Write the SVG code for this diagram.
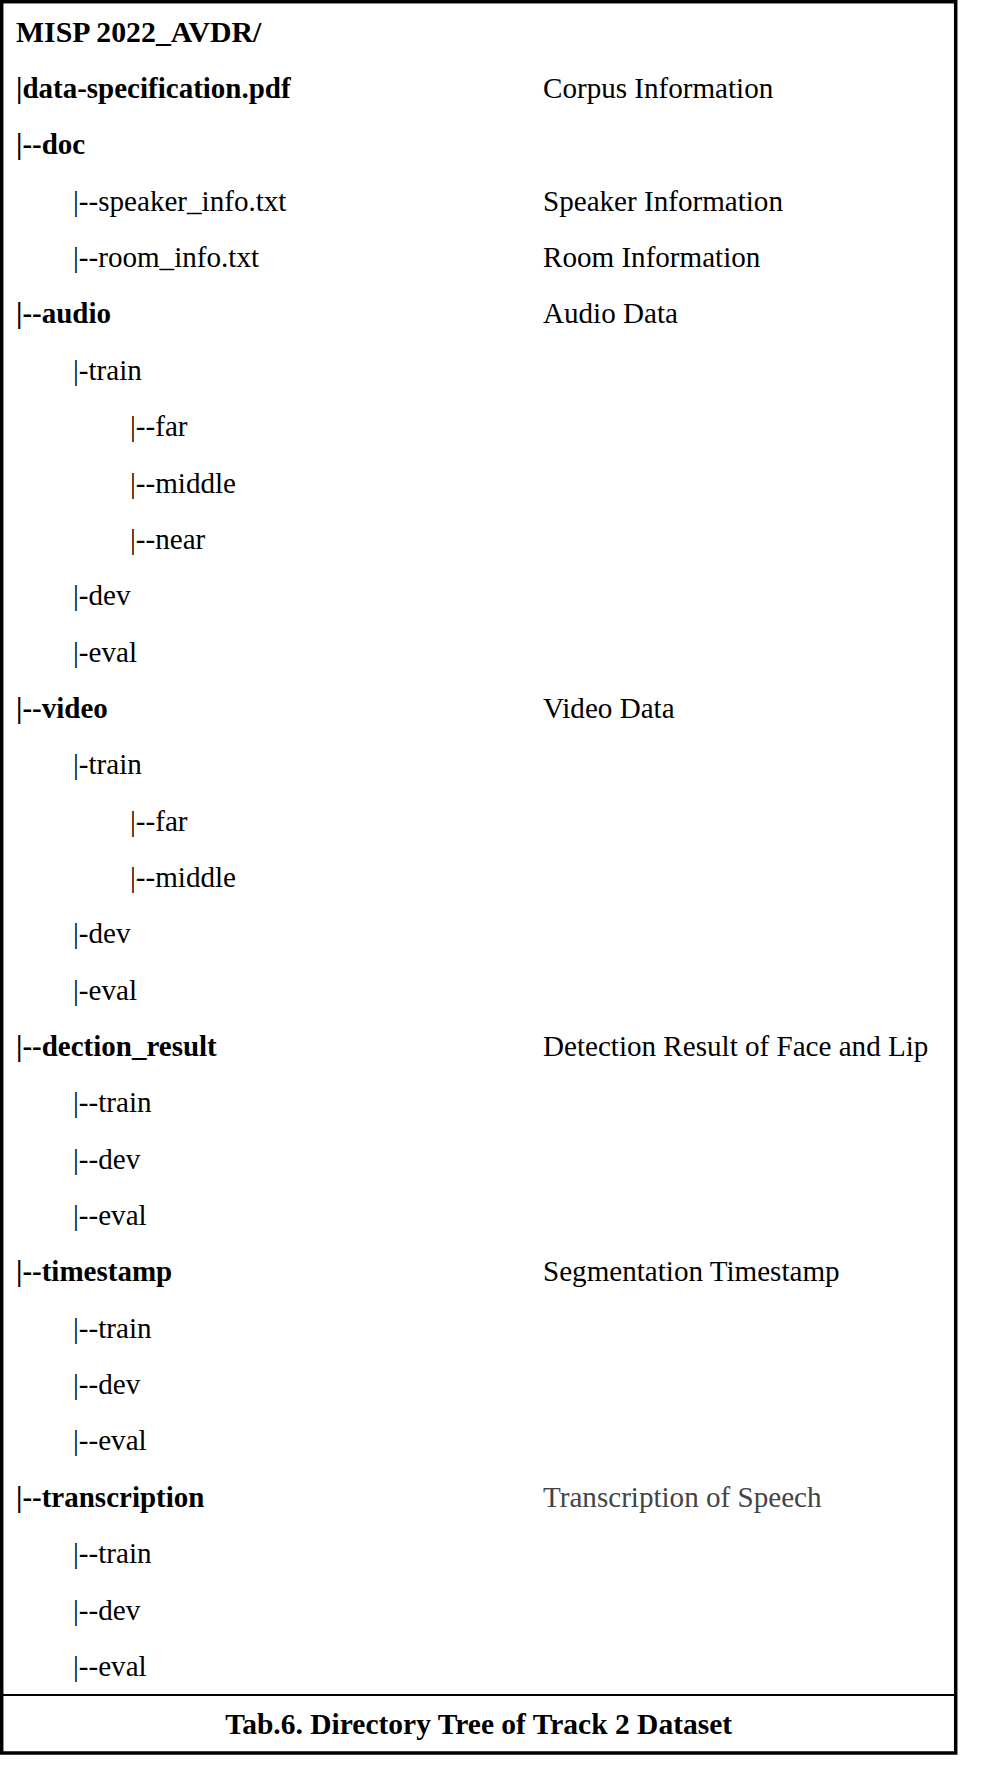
<svg xmlns="http://www.w3.org/2000/svg" width="999" height="1791" viewBox="0 0 999 1791">
<style>
text{font-family:"Liberation Serif","Times New Roman",serif;font-size:29.1px;fill:#000}
.b{font-weight:bold;font-size:29px}
.t{font-size:29.8px}
.g{fill:#444}
.cap{font-weight:bold;font-size:29.5px;text-anchor:middle}
</style>
<rect width="999" height="1791" fill="#fff"/>
<g id="frame" fill="none" stroke="#000">
<rect x="1.7" y="1.7" width="954" height="1751.3" stroke-width="3.5"/>
<line x1="1.7" y1="1695" x2="955.7" y2="1695" stroke-width="1.8"/>
</g>
<g id="tree">
<g id="r0"><text class="b t" x="16" y="41.7">MISP 2022_AVDR/</text></g>
<g id="r1"><text class="b" x="16" y="98">|data-specification.pdf</text><text x="543" y="98">Corpus Information</text></g>
<g id="r2"><text class="b" x="16" y="154.4">|--doc</text></g>
<g id="r3"><text x="73" y="210.7">|--speaker_info.txt</text><text x="543" y="210.7">Speaker Information</text></g>
<g id="r4"><text x="73" y="267.1">|--room_info.txt</text><text x="543" y="267.1">Room Information</text></g>
<g id="r5"><text class="b" x="16" y="323.4">|--audio</text><text x="543" y="323.4">Audio Data</text></g>
<g id="r6"><text x="73" y="379.8">|-train</text></g>
<g id="r7"><text x="130" y="436.1">|--far</text></g>
<g id="r8"><text x="130" y="492.5">|--middle</text></g>
<g id="r9"><text x="130" y="548.8">|--near</text></g>
<g id="r10"><text x="73" y="605.2">|-dev</text></g>
<g id="r11"><text x="73" y="661.5">|-eval</text></g>
<g id="r12"><text class="b" x="16" y="717.9">|--video</text><text x="543" y="717.9">Video Data</text></g>
<g id="r13"><text x="73" y="774.2">|-train</text></g>
<g id="r14"><text x="130" y="830.6">|--far</text></g>
<g id="r15"><text x="130" y="886.9">|--middle</text></g>
<g id="r16"><text x="73" y="943.3">|-dev</text></g>
<g id="r17"><text x="73" y="999.6">|-eval</text></g>
<g id="r18"><text class="b" x="16" y="1056">|--dection_result</text><text x="543" y="1056">Detection Result of Face and Lip</text></g>
<g id="r19"><text x="73" y="1112.3">|--train</text></g>
<g id="r20"><text x="73" y="1168.7">|--dev</text></g>
<g id="r21"><text x="73" y="1225">|--eval</text></g>
<g id="r22"><text class="b" x="16" y="1281.4">|--timestamp</text><text x="543" y="1281.4">Segmentation Timestamp</text></g>
<g id="r23"><text x="73" y="1337.7">|--train</text></g>
<g id="r24"><text x="73" y="1394.1">|--dev</text></g>
<g id="r25"><text x="73" y="1450.4">|--eval</text></g>
<g id="r26"><text class="b" x="16" y="1506.8">|--transcription</text><text class="g" x="543" y="1506.8">Transcription of Speech</text></g>
<g id="r27"><text x="73" y="1563.1">|--train</text></g>
<g id="r28"><text x="73" y="1619.5">|--dev</text></g>
<g id="r29"><text x="73" y="1675.8">|--eval</text></g>
</g>
<g id="caption"><text class="cap" x="478.7" y="1734">Tab.6. Directory Tree of Track 2 Dataset</text></g>
<g id="connectors"/>
</svg>
